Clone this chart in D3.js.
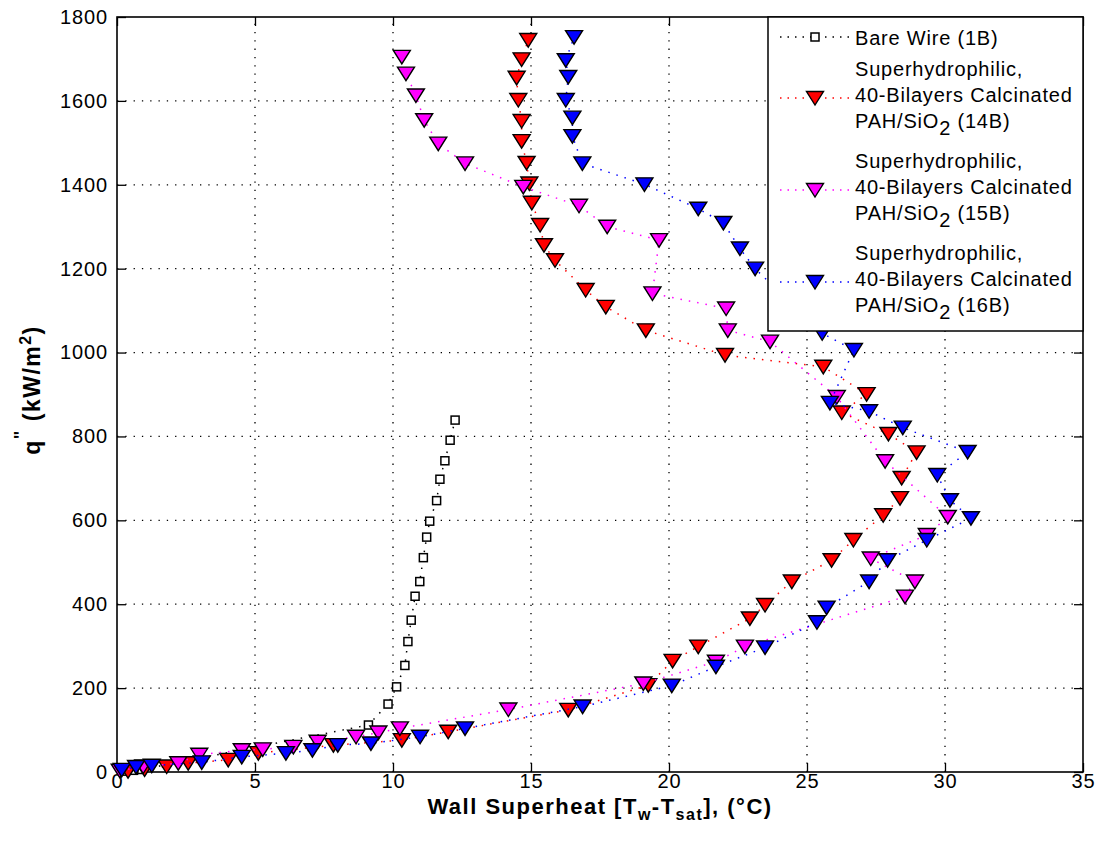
<!DOCTYPE html>
<html lang="en">
<head>
  <meta charset="UTF-8">
  <title>Boiling curves</title>
<script src="https://d3js.org/d3.v7.min.js"></script>
<style>
  body { margin: 0; background: #fff; }
  text { font-family: "Liberation Sans", Arial, sans-serif; }
</style>
</head>
<body>
<div id="chart"></div>

  <script>

// wall superheat (°C) and heat flux (kW/m2)
const bareX = [0.3, 0.6, 0.9, 9.11, 9.82, 10.13, 10.43, 10.54, 10.66, 10.80, 10.97, 11.10, 11.22, 11.33, 11.58, 11.70, 11.88, 12.07, 12.25];
const bareQ = [2, 4, 6, 112, 162, 203, 254, 311, 362, 419, 454, 511, 560, 598, 647, 698, 742, 791, 839];

const s14X = [0.4, 1.0, 1.80, 2.58, 4.03, 5.12, 7.84, 10.32, 12.0, 16.35, 19.25, 20.13, 21.06, 22.93, 23.48, 24.45, 25.89, 26.68, 27.76, 28.37, 28.43, 28.97, 27.95, 26.26, 27.16, 25.59, 22.03, 19.16, 17.71, 16.98, 15.87, 15.47, 15.33, 15.03, 14.94, 14.84, 14.66, 14.66, 14.54, 14.48, 14.66, 14.90];
const s14Q = [2, 6, 13, 21, 29, 45, 64, 76, 96, 148, 207, 265, 299, 366, 398, 454, 505, 553, 612, 653, 701, 762, 806, 857, 901, 966, 994, 1053, 1109, 1149, 1220, 1256, 1304, 1357, 1403, 1452, 1504, 1552, 1602, 1655, 1699, 1745];

const s15X = [0.1, 0.95, 2.22, 2.98, 4.52, 5.28, 6.39, 7.27, 8.66, 9.47, 10.25, 14.18, 19.07, 21.70, 22.75, 28.55, 28.91, 27.31, 29.34, 30.10, 27.83, 26.08, 23.66, 22.13, 22.07, 19.40, 19.64, 17.76, 16.74, 14.72, 12.61, 11.64, 11.13, 10.83, 10.47, 10.32];
const s15Q = [3, 13, 21, 41, 52, 54, 60, 72, 84, 94, 104, 149, 211, 263, 299, 418, 454, 509, 565, 608, 741, 894, 1026, 1053, 1105, 1141, 1268, 1300, 1350, 1395, 1451, 1498, 1554, 1613, 1665, 1705];

const s16X = [0.17, 0.69, 1.26, 3.07, 4.52, 6.12, 7.08, 8.0, 9.20, 10.98, 12.61, 16.87, 20.10, 21.70, 23.48, 25.36, 25.71, 27.25, 27.92, 29.34, 30.94, 30.18, 29.72, 30.82, 28.47, 27.25, 25.83, 26.70, 25.55, 23.12, 22.57, 21.97, 21.06, 19.11, 16.86, 16.50, 16.50, 16.26, 16.35, 16.26, 16.56];
const s16Q = [5, 12, 15, 23, 36, 45, 52, 64, 68, 84, 104, 156, 206, 251, 297, 357, 392, 454, 505, 553, 605, 648, 708, 763, 821, 860, 880, 1006, 1046, 1200, 1248, 1309, 1343, 1401, 1451, 1516, 1560, 1602, 1657, 1697, 1752];

const xTicks = [0, 5, 10, 15, 20, 25, 30, 35];
const yTicks = [0, 200, 400, 600, 800, 1000, 1200, 1400, 1600, 1800];

const width = 1101;
const height = 847;
const plot = { left: 117, top: 17, right: 1083, bottom: 772 };

const x = d3.scaleLinear().domain([0, 35]).range([plot.left, plot.right]);
const y = d3.scaleLinear().domain([0, 1800]).range([plot.bottom, plot.top]);

const svg = d3.select('#chart')
  .append('svg')
  .attr('width', width)
  .attr('height', height);

svg.append('rect').attr('width', width).attr('height', height).attr('fill', '#fff');

// grid
const grid = svg.append('g').attr('stroke', '#000').attr('stroke-width', 1.3)
  .attr('stroke-dasharray', '1.3,7');
grid.selectAll('.vg').data(xTicks.slice(1, -1)).enter().append('line')
  .attr('x1', d => x(d)).attr('x2', d => x(d))
  .attr('y1', plot.bottom).attr('y2', plot.top);
grid.selectAll('.hg').data(yTicks.slice(1, -1)).enter().append('line')
  .attr('y1', d => y(d)).attr('y2', d => y(d))
  .attr('x1', plot.left).attr('x2', plot.right);

// axes (ticks inside, on all four sides)
const tickFont = g => g.selectAll('text')
  .attr('font-size', 20).attr('letter-spacing', '0.9px').attr('fill', '#000');
const fmt = d3.format('d');

const gx = svg.append('g').attr('transform', `translate(0,${plot.bottom})`)
  .call(d3.axisBottom(x).tickValues(xTicks).tickFormat(fmt).tickSizeInner(-9).tickSizeOuter(0).tickPadding(2));
gx.call(tickFont);
const gy = svg.append('g').attr('transform', `translate(${plot.left},0)`)
  .call(d3.axisLeft(y).tickValues(yTicks).tickFormat(fmt).tickSizeInner(-9).tickSizeOuter(0).tickPadding(9));
gy.call(tickFont);
svg.append('g').attr('transform', `translate(0,${plot.top})`)
  .call(d3.axisTop(x).tickValues(xTicks).tickSizeInner(-9).tickSizeOuter(0).tickFormat(''));
svg.append('g').attr('transform', `translate(${plot.right},0)`)
  .call(d3.axisRight(y).tickValues(yTicks).tickSizeInner(-9).tickSizeOuter(0).tickFormat(''));
svg.selectAll('.domain').remove();
svg.selectAll('.tick line').attr('stroke', '#000').attr('stroke-width', 1.3);

svg.append('rect')
  .attr('x', plot.left).attr('y', plot.top)
  .attr('width', plot.right - plot.left).attr('height', plot.bottom - plot.top)
  .attr('fill', 'none').attr('stroke', '#000').attr('stroke-width', 1.6);

// series
const tri = 'M-8.5,-6.5L8.5,-6.5L0,7Z';
const series = [
  { xs: bareX, qs: bareQ, color: '#000', marker: 'square' },
  { xs: s14X, qs: s14Q, color: '#ff0000', marker: 'tri' },
  { xs: s15X, qs: s15Q, color: '#ff00ff', marker: 'tri' },
  { xs: s16X, qs: s16Q, color: '#0000ff', marker: 'tri' }
];

const line = d3.line().x(d => x(d[0])).y(d => y(d[1]));

function drawMarker(g, m, color) {
  if (m === 'square') {
    g.append('rect').attr('x', -4).attr('y', -4).attr('width', 8).attr('height', 8)
      .attr('fill', '#fff').attr('stroke', '#000').attr('stroke-width', 1.5);
  } else {
    g.append('path').attr('d', tri).attr('fill', color)
      .attr('stroke', '#000').attr('stroke-width', 1.4).attr('stroke-linejoin', 'miter');
  }
}

series.forEach(s => {
  const pts = s.xs.map((v, i) => [v, s.qs[i]]);
  svg.append('path').datum(pts)
    .attr('d', line)
    .attr('fill', 'none')
    .attr('stroke', s.color)
    .attr('stroke-width', 1.5)
    .attr('stroke-dasharray', '1.5,7');
  svg.append('g').selectAll('g').data(pts).enter().append('g')
    .attr('transform', d => `translate(${x(d[0])},${y(d[1])})`)
    .each(function () { drawMarker(d3.select(this), s.marker, s.color); });
});

// axis titles
const xt = svg.append('text')
  .attr('x', 600).attr('y', 814)
  .attr('text-anchor', 'middle')
  .attr('font-size', 22).attr('font-weight', 'bold').attr('letter-spacing', '1.5px');
xt.append('tspan').text('Wall Superheat [T');
xt.append('tspan').attr('font-size', 16).attr('dy', 6).text('w');
xt.append('tspan').attr('dy', -6).text('-T');
xt.append('tspan').attr('font-size', 16).attr('dy', 6).text('sat');
xt.append('tspan').attr('dy', -6).text('], (°C)');

const yt = svg.append('text')
  .attr('transform', 'translate(40,390) rotate(-90)')
  .attr('text-anchor', 'middle')
  .attr('font-size', 23).attr('font-weight', 'bold').attr('letter-spacing', '1.5px');
yt.append('tspan').text('q');
yt.append('tspan').attr('dy', -13).attr('font-size', 18).text('"');
yt.append('tspan').attr('dy', 13).text(' (kW/m');
yt.append('tspan').attr('dy', -9).attr('font-size', 16).text('2');
yt.append('tspan').attr('dy', 9).text(')');

// legend
const legendNames = [
  ['Bare Wire (1B)'],
  ['Superhydrophilic,', '40-Bilayers Calcinated', 'PAH/SiO|2| (14B)'],
  ['Superhydrophilic,', '40-Bilayers Calcinated', 'PAH/SiO|2| (15B)'],
  ['Superhydrophilic,', '40-Bilayers Calcinated', 'PAH/SiO|2| (16B)']
];
const legendRows = [37, 98, 190, 282];

const lg = svg.append('g');
lg.append('rect').attr('x', 768).attr('y', plot.top).attr('width', 315).attr('height', 314)
  .attr('fill', '#fff').attr('stroke', '#000').attr('stroke-width', 1.5);

series.forEach((s, i) => {
  const cy = legendRows[i];
  lg.append('line').attr('x1', 780).attr('x2', 852).attr('y1', cy).attr('y2', cy)
    .attr('stroke', s.color).attr('stroke-width', 1.5).attr('stroke-dasharray', '1.5,6');
  drawMarker(lg.append('g').attr('transform', `translate(815,${cy})`), s.marker, s.color);
  const lines = legendNames[i];
  const base = lines.length === 1 ? cy + 8 : cy - 22;
  lines.forEach((t, j) => {
    const tx = lg.append('text').attr('x', 855).attr('y', base + j * 26)
      .attr('font-size', 20).attr('letter-spacing', '0.8px').attr('fill', '#000');
    const parts = t.split('|');
    tx.append('tspan').text(parts[0]);
    if (parts.length > 1) {
      tx.append('tspan').attr('dy', 7).attr('font-size', 20).text(parts[1]);
      tx.append('tspan').attr('dy', -7).text(parts[2]);
    }
  });
});

  </script>
</body>
</html>
